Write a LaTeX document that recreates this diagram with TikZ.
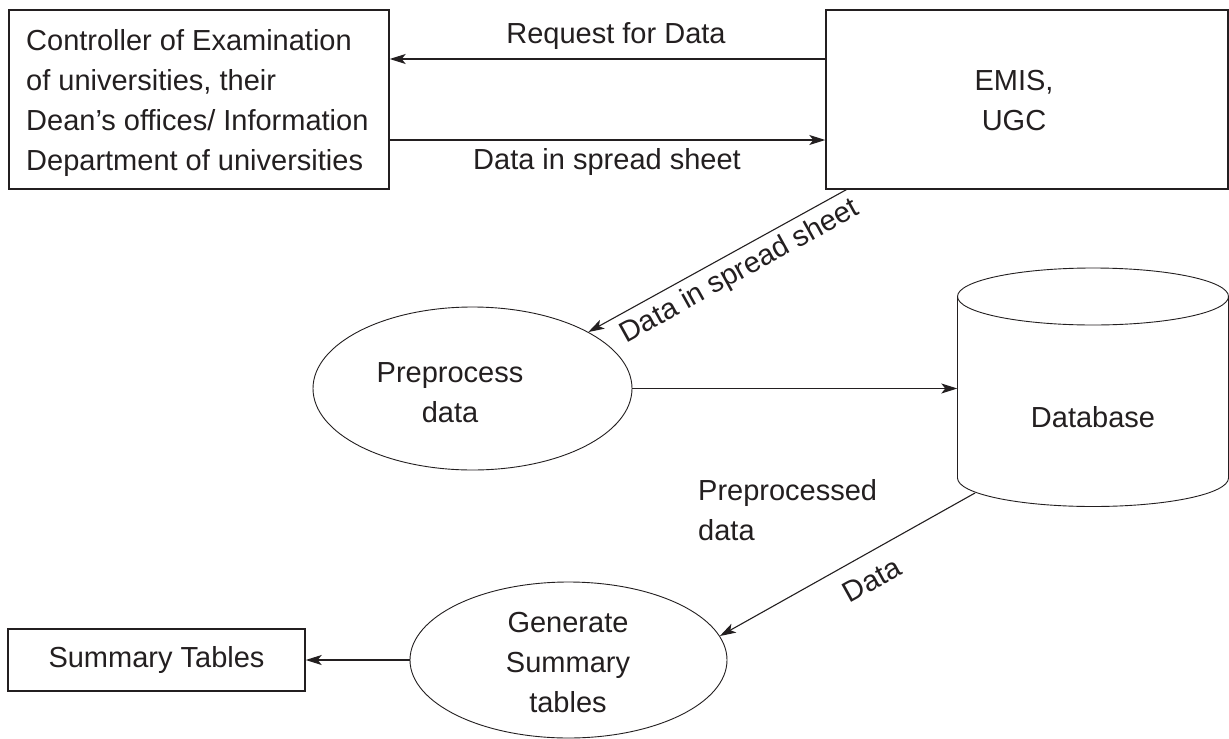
\documentclass[tikz,border=0pt]{standalone}
\usepackage{fontspec}
\setmainfont{Liberation Sans}
\usetikzlibrary{shapes.geometric,arrows.meta}
\definecolor{ink}{HTML}{231F20}
\begin{document}
\begin{tikzpicture}[x=1pt,y=-1pt,color=ink,
  font=\fontsize{29}{40}\selectfont,
  box/.style={draw, line width=1.4pt, inner sep=0pt},
  proc/.style={ellipse, draw, line width=0.9pt, inner sep=0pt},
  arr/.style={line width=1.1pt, -{Stealth[length=16pt,width=10pt,inset=4pt]}},
  lbl/.style={inner sep=0pt, align=center}]
\useasboundingbox (0,0) rectangle (1229,739);
\fill[white] (0,0) rectangle (1229,739);
% boxes
\node[box, minimum width=380pt, minimum height=179pt] (ctrl) at (199,99.5) {};
\node[lbl, align=left, anchor=west] (ctrltxt) at (26,103) {Controller of Examination\\of universities, their\\Dean’s offices/ Information\\Department of universities};
\node[box, minimum width=402pt, minimum height=179pt] (emis) at (1027,99.5) {};
\node[lbl] (emistxt) at (1014,101) {EMIS,\\UGC};
% ellipses
\node[proc, minimum width=319pt, minimum height=163pt] (pre) at (472.5,388.5) {};
\node[lbl] (pretxt) at (450,393) {Preprocess\\data};
\node[proc, minimum width=317pt, minimum height=156pt] (gen) at (568.5,660) {};
\node[lbl] (gentxt) at (568,663) {Generate\\Summary\\tables};
% database cylinder
\draw[line width=0.9pt] (957.5,296.5) -- (957.5,478)
  arc[start angle=180,end angle=360,x radius=135.5pt,y radius=28.5pt] -- (1228.5,296.5);
\draw[line width=0.9pt] (1093,296.5) ellipse[x radius=135.5pt, y radius=28.5pt];
\node[inner sep=0pt, minimum width=271pt, minimum height=181.5pt] (db) at (1093,387.25) {};
\node[lbl] (dbtxt) at (1093,417) {Database};
\coordinate (dbout) at (975,493);
% summary box
\node[box, minimum width=297pt, minimum height=62pt] (sum) at (156.5,660) {Summary Tables};
% connectors
\draw[arr] (emis.west |- 0,59) -- (ctrl.east |- 0,59);
\node[lbl] (req) at (616,36) {Request for Data};
\draw[arr] (ctrl.east |- 0,140) -- (emis.west |- 0,140);
\node[lbl] (dss1) at (607,162) {Data in spread sheet};
\draw[arr] ([xshift=21pt]emis.south west) -- (pre.26);
\node[lbl, rotate=29] (dss2) at (740,272) {Data in spread sheet};
\draw[arr] (pre.east) -- (pre.east -| db.west);
\node[lbl, align=left, anchor=west] (ppd) at (698,510) {Preprocessed\\data};
\draw[arr] (dbout) -- (gen.9);
\node[lbl, rotate=29] (dlab) at (872,580) {Data};
\draw[arr] (gen.west) -- (sum.east);
\end{tikzpicture}
\end{document}
